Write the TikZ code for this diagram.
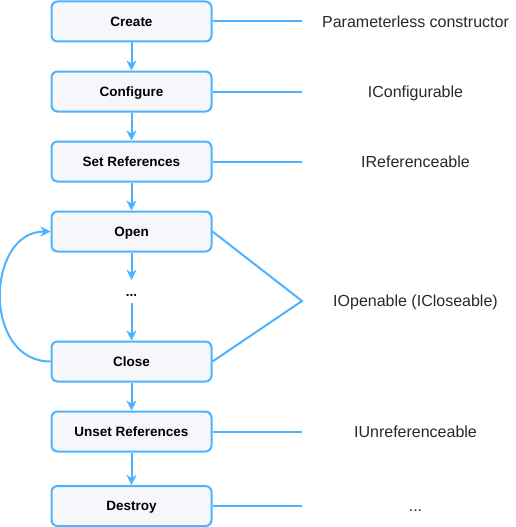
\documentclass[tikz,border=0pt]{standalone}
\usepackage{fontspec}
\setmainfont{Liberation Sans}
\usetikzlibrary{arrows.meta}
\definecolor{edgeblue}{RGB}{77,178,255}
\definecolor{boxfill}{RGB}{245,247,250}
\definecolor{lbltext}{RGB}{40,40,40}
\begin{document}
\begin{tikzpicture}[x=1pt,y=-1pt,
  stage/.style={draw=edgeblue, line width=2pt, fill=boxfill, rounded corners=6pt,
    minimum width=160pt, minimum height=40pt, inner sep=0pt, text height=9.7pt, text depth=0pt,
    font=\fontsize{13.5}{16}\selectfont\bfseries},
  lbl/.style={font=\fontsize{16}{19}\selectfont, text=lbltext, inner sep=0pt,
    text height=11.5pt, text depth=0pt},
  conn/.style={draw=edgeblue, line width=2pt},
  arr/.style={conn, -{Stealth[length=10pt,width=10pt,inset=3pt]}}]
\useasboundingbox (0,0) rectangle (516,527);

\node[stage] (cr) at (131.5,21.5) {Create};
\node[stage] (cf) at (131.5,91.5) {Configure};
\node[stage] (sr) at (131.5,161.5) {Set References};
\node[stage] (op) at (131.5,231.5) {Open};
\node[inner sep=0pt, minimum height=23pt, text height=9pt, text depth=0pt,
  font=\fontsize{13.5}{16}\selectfont\bfseries] (dt) at (131.5,291.5) {...};
\node[stage] (cl) at (131.5,361.5) {Close};
\node[stage] (ur) at (131.5,431.5) {Unset References};
\node[stage] (ds) at (131.5,506) {Destroy};

\coordinate (conv) at (302,301);

\node[lbl] (lcr) at (415.5,21.5) {Parameterless constructor};
\node[lbl] (lcf) at (415.5,91.5) {IConfigurable};
\node[lbl] (lsr) at (415.5,161.5) {IReferenceable};
\node[lbl] (lop) at (415.5,301) {IOpenable (ICloseable)};
\node[lbl] (lur) at (415.5,431.5) {IUnreferenceable};
\node[lbl] (lds) at (415.5,506) {...};

\draw[arr] (cr) -- (cf);
\draw[arr] (cf) -- (sr);
\draw[arr] (sr) -- (op);
\draw[arr] (op) -- (dt);
\draw[arr] (dt) -- (cl);
\draw[arr] (cl) -- (ur);
\draw[arr] (ur) -- (ds);

\draw[arr] (cl.west) .. controls (-18,361.5) and (-14,231.5) .. (op.west);

\draw[conn] (cr.east) -- (cr.east -| conv);
\draw[conn] (cf.east) -- (cf.east -| conv);
\draw[conn] (sr.east) -- (sr.east -| conv);
\draw[conn] (ur.east) -- (ur.east -| conv);
\draw[conn] (ds.east) -- (ds.east -| conv);
\draw[conn] (op.east) -- (conv) -- (cl.east);
\end{tikzpicture}
\end{document}
